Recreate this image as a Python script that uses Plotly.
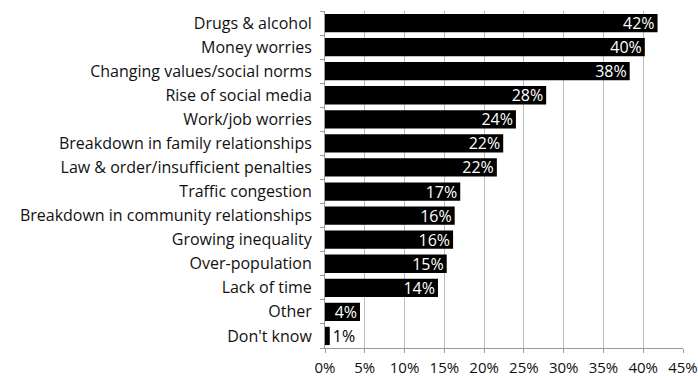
import plotly.graph_objects as go

# Survey responses, listed from top to bottom as displayed
categories = [
    "Drugs & alcohol",
    "Money worries",
    "Changing values/social norms",
    "Rise of social media",
    "Work/job worries",
    "Breakdown in family relationships",
    "Law & order/insufficient penalties",
    "Traffic congestion",
    "Breakdown in community relationships",
    "Growing inequality",
    "Over-population",
    "Lack of time",
    "Other",
    "Don't know",
]
shares = [41.8, 40.2, 38.3, 27.8, 24.0, 22.4, 21.6, 17.0, 16.3, 16.1, 15.3, 14.2, 4.4, 0.6]

x_ticks = [0, 5, 10, 15, 20, 25, 30, 35, 40, 45]
x_tick_labels = [f"{t}%" for t in x_ticks]

FONT = "Open Sans"
SIZE = 16

positions = ["inside"] * (len(shares) - 1) + ["outside"]

fig = go.Figure(
    go.Bar(
        x=shares,
        y=categories,
        orientation="h",
        marker=dict(color="#000000", line=dict(width=0)),
        text=[f"{round(v):.0f}%" for v in shares],
        textposition=positions,
        insidetextanchor="end",
        insidetextfont=dict(color="white", size=SIZE, family=FONT),
        outsidetextfont=dict(color="black", size=SIZE, family=FONT),
        textangle=0,
        cliponaxis=False,
        hoverinfo="skip",
    )
)

fig.update_layout(
    width=698,
    height=376,
    margin=dict(l=325, r=15, t=11, b=28),
    plot_bgcolor="white",
    paper_bgcolor="white",
    bargap=0.24,
    showlegend=False,
    font=dict(family=FONT, size=SIZE, color="#111111"),
    uniformtext=dict(minsize=SIZE, mode="show"),
)

fig.update_xaxes(
    range=[0, 45],
    tickvals=x_ticks,
    ticktext=x_tick_labels,
    showgrid=True,
    gridcolor="#bdbdbd",
    gridwidth=1,
    showline=True,
    linecolor="#9a9a9a",
    linewidth=1,
    ticks="outside",
    ticklen=4,
    tickcolor="#9a9a9a",
    zeroline=False,
    tickfont=dict(size=15, family=FONT, color="#111111"),
    ticklabelstandoff=2,
    automargin=False,
    fixedrange=True,
)

fig.update_yaxes(
    categoryorder="array",
    categoryarray=categories[::-1],
    autorange=False,
    range=[-0.5, len(categories) - 0.5],
    showline=True,
    linecolor="#9a9a9a",
    linewidth=1,
    ticks="outside",
    tickson="boundaries",
    ticklen=4,
    tickcolor="#9a9a9a",
    showgrid=False,
    tickfont=dict(size=SIZE, family=FONT, color="#111111"),
    ticklabelstandoff=9,
    automargin=False,
    fixedrange=True,
)

fig.write_html("out.html")
